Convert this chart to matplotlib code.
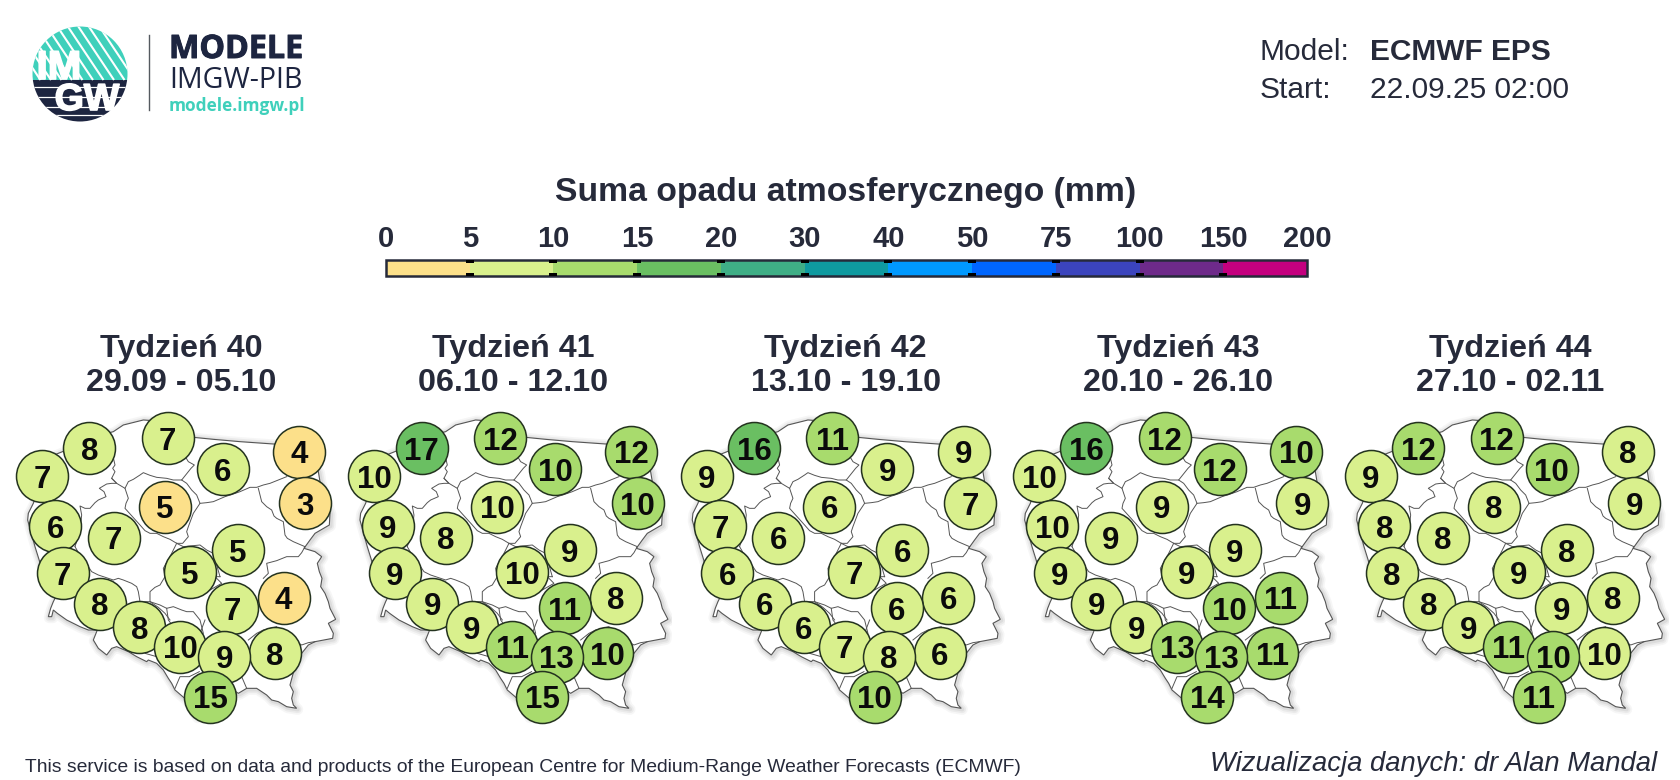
import numpy as np
import matplotlib
matplotlib.use("Agg")
import matplotlib.pyplot as plt
import matplotlib.patheffects as pe
from matplotlib.colors import ListedColormap, BoundaryNorm
from matplotlib.colorbar import ColorbarBase
from matplotlib.patches import Circle, Rectangle

# ---------- data ----------
bounds = [0, 5, 10, 15, 20, 30, 40, 50, 75, 100, 150, 200]
bin_colors = ['#FCE08A', '#D9F08D', '#A8DB6D', '#6ABF62', '#3FAE86', '#0F9AA0',
              '#0099FF', '#0066FF', '#3B44BD', '#6E2A8A', '#C4007F']
week_titles = ['Tydzień 40', 'Tydzień 41', 'Tydzień 42', 'Tydzień 43', 'Tydzień 44']
week_dates = ['29.09 - 05.10', '06.10 - 12.10', '13.10 - 19.10', '20.10 - 26.10', '27.10 - 02.11']

# stations in drawing order (map units)
site_x = [126, 268, 503, 897, 668, 916, 494, 166, 341, 713, 569, 188, 300, 418, 540, 851, 697, 825, 673, 630]
site_y = [228, 145, 115, 155, 208, 310, 320, 378, 413, 451, 517, 520, 611, 682, 740, 593, 624, 760, 770, 890]

week40 = [7.0, 7.8, 7.2, 3.9, 6.1, 3.4, 4.8, 6.0, 7.1, 5.2, 5.3, 6.8, 8.0, 8.1, 9.7, 4.2, 7.0, 8.2, 9.0, 14.8]
week41 = [9.8, 17.2, 12.1, 12.2, 10.2, 10.3, 9.7, 9.1, 8.1, 9.0, 9.6, 9.2, 9.0, 9.1, 11.0, 8.2, 11.1, 10.4, 13.0, 14.7]
week42 = [9.1, 16.0, 11.0, 9.0, 9.2, 7.1, 6.0, 7.0, 6.2, 6.1, 7.0, 6.0, 6.2, 6.1, 7.0, 6.0, 6.1, 6.2, 8.0, 10.3]
week43 = [9.8, 16.2, 12.0, 10.2, 12.1, 9.1, 9.2, 9.7, 9.0, 9.1, 9.2, 9.0, 9.2, 9.1, 13.0, 11.0, 10.3, 11.1, 13.2, 14.0]
week44 = [9.1, 12.2, 12.0, 8.1, 10.2, 9.0, 8.1, 8.2, 8.0, 8.2, 9.1, 8.0, 8.1, 9.0, 11.0, 8.2, 9.1, 9.8, 10.3, 11.0]
weeks = [week40, week41, week42, week43, week44]

# Poland outline and voivodeship borders (map units)
outline_x = [150,200,250,340,370,430,500,580,640,720,820,900,955,960,975,990,988,945,930,912,945,965,952,958,966,962,975,985,990,1007,985,1000,998,945,925,905,885,870,880,875,880,890,860,835,815,800,770,740,715,700,680,640,590,560,525,515,505,490,470,445,440,410,385,350,335,320,295,280,292,265,240,200,172,160,155,145,152,160,170,130,105,83,85,100,125]
outline_y = [170,150,120,95,75,60,65,112,118,125,132,140,215,245,300,340,375,400,420,445,455,470,490,515,535,560,580,605,625,658,670,700,715,725,735,760,800,855,875,895,915,925,920,905,900,885,865,865,880,870,920,950,950,900,870,850,835,810,790,780,785,770,755,740,745,765,745,720,690,690,680,660,640,630,650,650,625,605,585,520,440,360,340,310,240]

border_lines_x = [
    [330,345,338,345,335,350,335,320,298,312,318,295,285,270,255,240,245,240,225],
    [335,350,375,385,400,420,430,450,470,500,520,545,565,573,583,565,550],
    [375,385,378,375,420,435,450,470,490,510,530,548,565,560,565,580,600,590,575,560,545],
    [600,620,640,675,700,720,750,770,790,810,860],
    [775,785,800,815,822,830,850,855,862,880,915],
    [530,550,570,600,620,640,660],
    [915,905,895,860,830,800,805,790],
    [530,510,490,495,480,465,450,450,480,500,520,545,560,580,600,610],
    [660,645,665,630],
    [225,248,265,275,295,340,355,370,395,410,415,420,450],
    [450,475,495,510],
    [500,505,520],
    [615,600,595,600],
    [745,770,790,830],
    [880,905,925,945],
    [740,725,720],
    [598,568,540,525],
    [435,470,490],
]
border_lines_y = [
    [130,195,205,215,235,250,250,252,265,275,290,300,308,325,325,318,345,390,440],
    [235,250,265,245,238,225,218,226,232,235,240,240,215,205,195,185,160],
    [265,295,310,325,375,392,400,400,410,418,430,430,410,395,380,340,310,285,270,250,240],
    [310,308,305,290,282,275,262,262,255,250,230],
    [265,305,320,330,348,355,365,405,415,425,440],
    [430,440,438,435,450,460,530],
    [440,458,470,470,482,490,520,535],
    [430,470,505,530,555,562,575,605,615,625,620,630,635,635,660,700],
    [530,530,550,570],
    [440,480,500,515,525,540,535,540,550,560,575,605,605],
    [605,622,640,660],
    [625,660,680],
    [660,700,740,790],
    [720,700,690,680],
    [720,735,728,725],
    [865,830,800],
    [815,830,830,865],
    [760,770,790],
]

# ---------- figure ----------
W, H = 1680, 780
NAVY = '#262A3A'
TEAL = '#3FD0BB'
LOGO = '#1D2540'
FAM = 'Liberation Sans'

fig = plt.figure(figsize=(W / 100, H / 100), dpi=100, facecolor='white')
page = fig.add_axes([0, 0, 1, 1])
page.set_xlim(0, W)
page.set_ylim(H, 0)
page.axis('off')

# logo
page.add_patch(Rectangle((30, 24), 100, 56, fc=TEAL, ec='none',
                         clip_path=Circle((80, 74), 47.5, transform=page.transData)))
page.add_patch(Rectangle((30, 80), 100, 50, fc=LOGO, ec='none',
                         clip_path=Circle((80, 74), 47.5, transform=page.transData)))
for start in np.arange(-10, 170, 10.5):
    ln, = page.plot([start, start + 40], [20, 80], color='white', lw=1.5, solid_capstyle='butt')
    ln.set_clip_path(Circle((80, 74), 47.5, transform=page.transData))
for yy in [87, 97, 107, 115]:
    ln, = page.plot([20, 140], [yy, yy], color='white', lw=0.9)
    ln.set_clip_path(Circle((80, 74), 47.5, transform=page.transData))
white_stroke = [pe.withStroke(linewidth=1.2, foreground='white')]
page.text(59, 79, 'IM', family=FAM, weight='bold', size=29, color='white', ha='center', va='baseline',
          path_effects=white_stroke)
page.text(87, 110, 'GW', family=FAM, weight='bold', size=27, color='white', ha='center', va='baseline',
          path_effects=white_stroke)
page.plot([148.5, 148.5], [35, 110], color='#555a60', lw=1)
page.text(169, 58, 'MODELE', family='Open Sans', weight='bold', size=23.2, color=LOGO, va='baseline',
          path_effects=[pe.withStroke(linewidth=0.7, foreground=LOGO)])
page.text(169, 88, 'IMGW-PIB', family='Open Sans', size=20.6, color=LOGO, va='baseline')
page.text(169, 111, 'modele.imgw.pl', family='Open Sans', weight='bold', size=12.4, color=TEAL, va='baseline')

# header
page.text(1260, 60, 'Model:', family=FAM, size=21.5, color=NAVY, va='baseline')
page.text(1370, 60, 'ECMWF EPS', family=FAM, weight='bold', size=21.5, color=NAVY, va='baseline')
page.text(1260, 98, 'Start:', family=FAM, size=21.5, color=NAVY, va='baseline')
page.text(1370, 98, '22.09.25 02:00', family=FAM, size=21.5, color=NAVY, va='baseline')
page.text(846, 201, 'Suma opadu atmosferycznego (mm)', family=FAM, weight='bold', size=24.35,
          color=NAVY, ha='center', va='baseline')

# footer
page.text(25, 772, 'This service is based on data and products of the European Centre for '
          'Medium-Range Weather Forecasts (ECMWF)', family=FAM, size=13.85, color=NAVY, va='baseline')
page.text(1657, 771, 'Wizualizacja danych: dr Alan Mandal', family=FAM, style='italic', size=19.7,
          color=NAVY, ha='right', va='baseline')

# colour bar
cmap = ListedColormap(bin_colors)
norm = BoundaryNorm(bounds, cmap.N)
cax = fig.add_axes([386 / W, 1 - 276 / H, 921 / W, 16 / H])
cb = ColorbarBase(cax, cmap=cmap, norm=norm, orientation='horizontal', spacing='uniform', ticks=bounds)
cb.outline.set_edgecolor(NAVY)
cb.outline.set_linewidth(1.8)
cax.xaxis.set_ticks_position('top')
cax.set_xticks(bounds)
cax.set_xticklabels([str(b) for b in bounds], family=FAM, weight='bold', size=21, color=NAVY)
cax.tick_params(axis='x', which='major', length=0, pad=5)
for k in range(1, len(bounds) - 1):
    frac = k / (len(bounds) - 1)
    for y0 in (0, 0.8):
        cax.add_patch(Rectangle((frac - 4 / 921, y0), 8 / 921, 0.2, fc='black', ec='none',
                                transform=cax.transAxes, clip_on=False, zorder=5))

# panels
panel_x0 = [0, 332.3, 664.6, 997, 1329]
for p, vals in enumerate(weeks):
    page.text(181 + 332.3 * p, 357, week_titles[p], family=FAM, weight='bold', size=23.2, color=NAVY,
              ha='center', va='baseline')
    page.text(181 + 332.3 * p, 391, week_dates[p], family=FAM, weight='bold', size=23.2, color=NAVY,
              ha='center', va='baseline')
    ax = fig.add_axes([panel_x0[p] / W, 1 - 730 / H, 340 / W, 330 / H])
    ax.set_xlim(0, 1020)
    ax.set_ylim(990, 0)
    ax.axis('off')
    ox = np.array(outline_x, float)
    oy = np.array(outline_y, float)
    for lw, a in [(8, .07), (5.5, .10), (3, .14)]:
        ax.fill(ox + 3, oy + 3, fc='none', ec='#888888', lw=lw, alpha=a, joinstyle='round', zorder=1)
    ax.fill(ox, oy, fc='white', ec='#555555', lw=0.8, zorder=2)
    for bx, by in zip(border_lines_x, border_lines_y):
        ax.plot(bx, by, color='#555555', lw=0.7, zorder=3)
    for x, y, v in zip(site_x, site_y, vals):
        ax.scatter([x], [y], s=(52 * 0.72) ** 2, c=[cmap(norm(v))], edgecolors='#24331f', linewidths=1.1,
                   zorder=4)
        ax.text(x, y, str(int(round(v))), family=FAM, weight='bold', size=22.5, color='#0b0b0b',
                ha='center', va='center_baseline', zorder=4)

fig.savefig('out.png', dpi=100, facecolor='white')
